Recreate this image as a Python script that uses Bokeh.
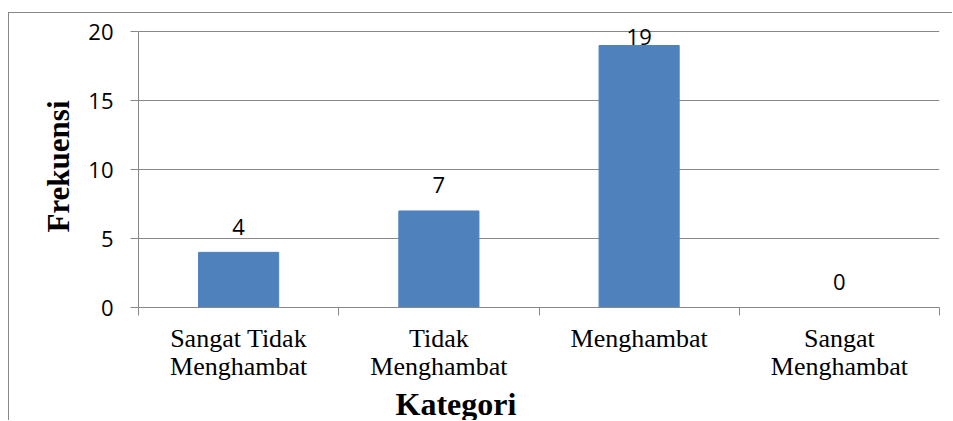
from bokeh.plotting import figure
from bokeh.models import FixedTicker, Range1d, Title, ColumnDataSource
from bokeh.core.properties import value
from bokeh.embed import file_html
from bokeh.resources import INLINE

# ---- data ----
categories = ["Sangat Tidak Menghambat", "Tidak Menghambat", "Menghambat", "Sangat Menghambat"]
category_labels = ["Sangat Tidak\nMenghambat", "Tidak\nMenghambat", "Menghambat", "Sangat\nMenghambat"]
frequencies = [4, 7, 19, 0]
y_ticks = [0, 5, 10, 15, 20]
y_title = "Frekuensi"
x_title = "Kategori"

# ---- styling constants ----
BAR_COLOR = "#4F81BD"
GRID_COLOR = "#888888"
LABEL_GAP = 1.85     # data units above bar top
LABEL_CEIL = 19.6    # highest label baseline (data units)

n = len(categories)
xs = [i + 0.5 for i in range(n)]
label_y = [min(v + LABEL_GAP, LABEL_CEIL) for v in frequencies]

src = ColumnDataSource(dict(x=xs, top=frequencies, ly=label_y, txt=[str(v) for v in frequencies]))

p = figure(width=944, height=408, output_backend="svg", toolbar_location=None,
           x_range=Range1d(0, n), y_range=Range1d(0, 20.45),
           min_border_left=129, min_border_right=14, min_border_top=12, min_border_bottom=114)
p.margin = (12, 0, 0, 8)
p.styles = {"border-left": "1px solid #888888", "border-top": "1px solid #888888"}
p.outline_line_color = None
p.background_fill_color = "white"
p.border_fill_color = "white"

p.vbar(x="x", top="top", width=0.4, source=src, fill_color=BAR_COLOR, line_color=BAR_COLOR)
p.text(x="x", y="ly", text="txt", source=src, text_align="center", text_baseline="alphabetic",
       text_font=value("Open Sans"), text_font_size="22px", text_color="black")

# x axis
xa = p.xaxis[0]
xa.ticker = FixedTicker(ticks=xs, minor_ticks=list(range(n + 1)))
xa.major_label_overrides = {x: lab for x, lab in zip(xs, category_labels)}
xa.major_tick_out = 0
xa.major_tick_in = 0
xa.minor_tick_out = 8
xa.minor_tick_in = 0
xa.minor_tick_line_color = GRID_COLOR
xa.axis_line_color = GRID_COLOR
xa.major_label_text_font = "Liberation Serif"
xa.major_label_text_font_size = "26px"
xa.major_label_text_color = "black"
xa.major_label_text_line_height = 0.97
xa.major_label_standoff = 8

# y axis
ya = p.yaxis[0]
ya.ticker = FixedTicker(ticks=y_ticks, minor_ticks=[])
ya.bounds = (0, 20)
ya.major_tick_out = 8
ya.major_tick_in = 0
ya.major_tick_line_color = GRID_COLOR
ya.axis_line_color = GRID_COLOR
ya.major_label_text_font = "Open Sans"
ya.major_label_text_font_size = "22px"
ya.major_label_text_color = "black"
ya.major_label_standoff = 17
ya.axis_label = y_title
ya.axis_label_text_font = "Liberation Serif"
ya.axis_label_text_font_style = "bold"
ya.axis_label_text_font_size = "31px"
ya.axis_label_text_color = "black"
ya.axis_label_standoff = 9

p.xgrid.visible = False
p.ygrid.grid_line_color = GRID_COLOR
p.ygrid.grid_line_width = 1

p.add_layout(Title(text=x_title, align="left", offset=257, standoff=0,
                   text_font="Liberation Serif", text_font_style="bold", text_font_size="32px",
                   text_line_height=1.0, text_color="black"), "below")

open("out.html", "w").write(file_html(p, INLINE))
